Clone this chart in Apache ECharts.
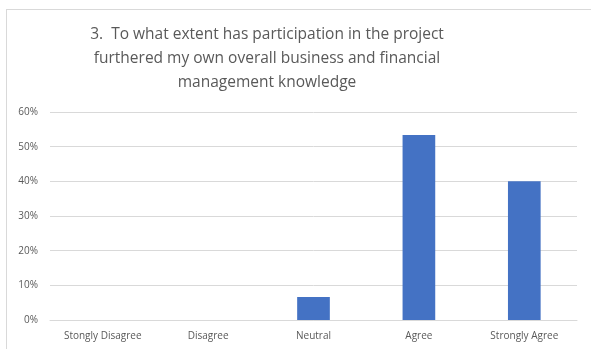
<!DOCTYPE html>
<html>
<head>
<meta charset="utf-8">
<script src="https://cdn.jsdelivr.net/npm/echarts@6/dist/echarts.min.js"></script>
<style>
  html, body { margin: 0; padding: 0; background: #fff; }
  #frame { position: absolute; left: 6px; top: 9px; width: 600px; height: 360px; border: 1px solid #d9d9d9; box-sizing: border-box; }
  #chart { position: absolute; left: 0; top: 0; width: 591px; height: 349px; }
</style>
</head>
<body>
<div id="frame"></div>
<div id="chart"></div>
<script>
var categories = ['Stongly Disagree', 'Disagree', 'Neutral', 'Agree', 'Strongly Agree'];
var values = [0, 0, 6.67, 53.33, 40];
var titleText = '3.  To what extent has participation in the project\nfurthered my own overall business and financial\nmanagement knowledge';

var myChart = echarts.init(document.getElementById('chart'));
var option = {
    animation: false,
    title: {
        text: titleText,
        left: 262,
        textAlign: 'center',
        top: 18,
        textStyle: {
            color: '#595959',
            fontFamily: 'Open Sans',
            fontWeight: 'normal',
            fontSize: 15.5,
            lineHeight: 24
        }
    },
    grid: {
        left: 50,
        right: 14,
        top: 112,
        bottom: 29
    },
    xAxis: {
        type: 'category',
        data: categories,
        axisLine: { lineStyle: { color: '#d9d9d9' } },
        axisTick: { show: false },
        axisLabel: {
            color: '#595959',
            fontFamily: 'Open Sans',
            fontSize: 10,
            margin: 11,
            interval: 0
        }
    },
    yAxis: {
        type: 'value',
        min: 0,
        max: 60,
        interval: 10,
        axisLine: { show: false },
        axisTick: { show: false },
        splitLine: { lineStyle: { color: '#d9d9d9' } },
        axisLabel: {
            color: '#595959',
            fontFamily: 'Open Sans',
            fontSize: 10,
            margin: 12,
            formatter: '{value}%'
        }
    },
    series: [
        {
            type: 'bar',
            data: values,
            barWidth: '31%',
            itemStyle: { color: '#4472c4' }
        }
    ]
};
myChart.setOption(option);
</script>
</body>
</html>
